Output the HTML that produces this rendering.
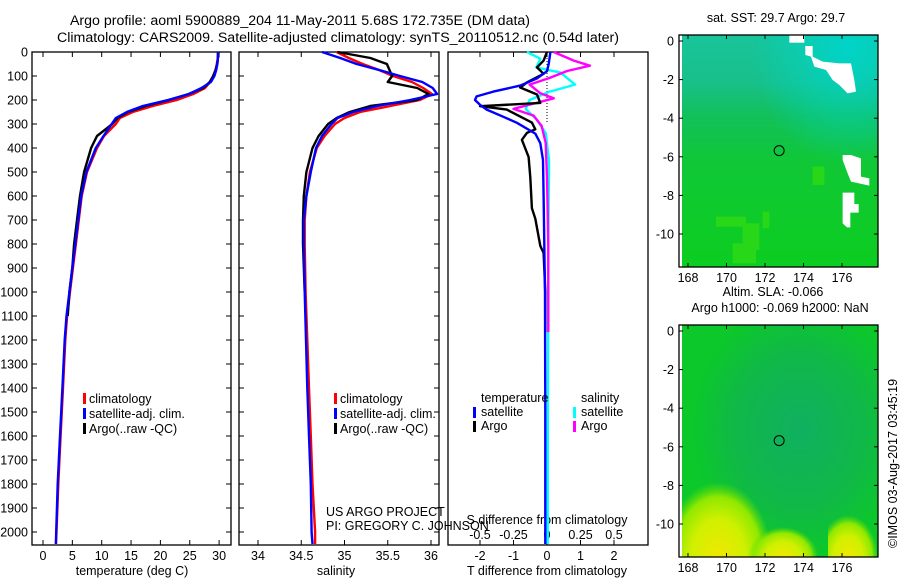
<!DOCTYPE html>
<html><head><meta charset="utf-8"><style>
html,body{margin:0;padding:0;background:#fff;width:900px;height:580px;overflow:hidden}
svg text{font-family:"Liberation Sans",sans-serif;font-size:12.5px;fill:#000}
</style></head><body>
<svg id="chart" width="900" height="580" xmlns="http://www.w3.org/2000/svg" style="display:block;overflow:hidden">
<defs>
<linearGradient id="sstg" x1="0" y1="0" x2="0" y2="1">
<stop offset="0" stop-color="#18c49a"/><stop offset="0.2" stop-color="#18c08a"/><stop offset="0.35" stop-color="#12c05a"/><stop offset="0.55" stop-color="#10c836"/><stop offset="1" stop-color="#0ccd20"/></linearGradient>
<radialGradient id="sstcy" cx="0.85" cy="0.05" r="0.5"><stop offset="0" stop-color="#00d4c8"/><stop offset="1" stop-color="#00d4c8" stop-opacity="0"/></radialGradient>
<radialGradient id="slac" cx="0.6" cy="0.45" r="0.55"><stop offset="0" stop-color="#10b060"/><stop offset="0.6" stop-color="#10b848"/><stop offset="1" stop-color="#10b848" stop-opacity="0"/></radialGradient>
<radialGradient id="sly1" cx="0.4" cy="1" r="0.6"><stop offset="0" stop-color="#f0e800"/><stop offset="0.5" stop-color="#d0f000"/><stop offset="0.8" stop-color="#90e800"/><stop offset="1" stop-color="#60e000" stop-opacity="0"/></radialGradient>
<radialGradient id="sly2" cx="0.5" cy="1" r="0.5"><stop offset="0" stop-color="#f0e800"/><stop offset="0.5" stop-color="#d0f000"/><stop offset="0.8" stop-color="#90e800"/><stop offset="1" stop-color="#60e000" stop-opacity="0"/></radialGradient>
<clipPath id="clipm1"><rect x="679" y="35" width="199" height="232"/></clipPath>
<clipPath id="clipm2"><rect x="679" y="325" width="199" height="232"/></clipPath>
</defs>
<g id="root"></g>
</svg>
<script>
// ---------- data ----------
const tDepth = [0,25,50,75,100,125,150,175,200,225,250,275,300,350,400,500,600,700,800,900,1000,1100,1200,1400,1600,1800,2000,2050];
const tClim = [29.8,29.8,29.6,29.4,29.0,28.5,27.6,25.6,22.8,18.7,15.3,13.1,12.4,10.4,9.2,7.5,6.6,6.1,5.6,5.1,4.6,4.1,3.8,3.4,3.0,2.6,2.3,2.2];
const tSat = [29.8,29.8,29.7,29.5,29.2,28.6,27.0,24.9,21.3,17.0,14.3,12.4,11.7,10.3,9.0,7.4,6.5,6.0,5.5,5.0,4.5,4.0,3.7,3.3,2.9,2.5,2.25,2.2];
const tArgo = [29.9,29.8,29.7,29.4,29.0,28.4,27.3,24.8,21.5,17.5,14.5,12.7,11.8,9.2,8.2,7.0,6.3,5.8,5.3,5.0,4.5,4.2];
const sDepth = [0,25,50,75,100,125,150,175,200,225,250,275,300,350,400,500,600,700,800,1000,1200,1400,1600,1800,2000,2050];
const sClim = [34.91,35.05,35.21,35.40,35.56,35.78,35.91,36.01,35.87,35.53,35.18,35.0,34.89,34.77,34.68,34.60,34.56,34.54,34.54,34.55,34.57,34.59,34.61,34.63,34.66,34.66];
const sSat = [34.74,34.95,35.14,35.40,35.64,35.90,36.02,36.07,35.76,35.38,35.10,34.92,34.85,34.74,34.67,34.61,34.56,34.53,34.53,34.54,34.555,34.57,34.59,34.61,34.62,34.63];
const sArgo = [34.92,35.30,35.49,35.52,35.55,35.50,35.84,35.97,35.84,35.30,35.06,34.91,34.81,34.70,34.63,34.56,34.53,34.52,34.52,34.54];
const dTDepth = [0,50,80,110,140,165,185,200,220,240,270,295,340,380,450,600,800,1000,1500,2050];
const dTSat = [0.1,0.05,0,-0.3,-0.8,-1.6,-2.1,-2.15,-2.0,-1.8,-1.3,-0.9,-0.35,-0.2,-0.12,-0.1,-0.08,-0.06,-0.05,-0.05];
const dTArgoDepth = [0,36,64,91,127,148,177,212,226,240,294,322,337,366,437,522,651,694,808,837,1000,1167];
const dTArgo = [0,-0.1,-0.3,-0.1,-0.6,-0.8,-0.3,-0.2,-2.0,-1.2,-0.45,-0.35,-0.6,-0.75,-0.55,-0.5,-0.45,-0.35,-0.2,-0.1,-0.05,-0.05];
const dSDepth = [0,28,64,86,136,165,200,237,280,337,450,800,1200,1600,2050];
const dSSat = [-0.15,-0.05,-0.08,0.1,0.21,0.02,-0.13,-0.16,-0.08,-0.01,0.015,0.01,0.008,0.006,0.005];
const dSArgoDepth = [0,36,57,79,108,136,172,193,215,237,265,308,379,522,800,1167];
const dSArgo = [0.05,0.2,0.32,0.15,0.02,-0.13,-0.05,0.05,-0.1,-0.25,-0.1,-0.04,-0.01,0.0,0.01,0.01];
const depthTicks = [0,100,200,300,400,500,600,700,800,900,1000,1100,1200,1300,1400,1500,1600,1700,1800,1900,2000];
const tempTicks = [0,5,10,15,20,25,30];
const salTicks = [34,34.5,35,35.5,36];
const dTTicks = [-2,-1,0,1,2];
const dSTicks = [-0.5,-0.25,0,0.25,0.5];
const lonTicks = [168,170,172,174,176];
const latTicks = [0,-2,-4,-6,-8,-10];
const argoLon = 172.735, argoLat = -5.68;

// ---------- scales ----------
const TOP=52, BOT=545;
const yD = d => TOP + d*0.24;
const xT = t => 43 + t*5.87;
const xS = s => 258 + (s-34)*86.5;
const xdT = v => 547 + v*33.5;
const xdS = v => 547 + v*134;
const NS="http://www.w3.org/2000/svg";
const root=document.getElementById('root');
function el(tag,attrs,parent,text){const e=document.createElementNS(NS,tag);for(const k in attrs)e.setAttribute(k,attrs[k]);if(text!==undefined)e.textContent=text;(parent||root).appendChild(e);return e;}
function txt(x,y,s,anchor,parent){const t=el('text',{x:x,y:y,'text-anchor':anchor||'start'},parent,s);return t;}

function frame(x0,x1,name){
  const g=el('g',{});
  
  
  el('rect',{x:x0,y:TOP,width:x1-x0,height:BOT-TOP,fill:'none',stroke:'#000','stroke-width':1.3},g);
  return g;
}
function line(vals,depths,xf,color,name,g){
  let pts=[];
  for(let i=0;i<vals.length;i++)pts.push(xf(vals[i]).toFixed(1)+','+yD(depths[i]).toFixed(1));
  const p=el('polyline',{points:pts.join(' '),fill:'none',stroke:color,'stroke-width':2.4,'stroke-linejoin':'round'},g);
  
  
  return p;
}

// titles
const tt=el('g',{});


txt(300,25,'Argo profile: aoml 5900889_204 11-May-2011 5.68S 172.735E (DM data)','middle',tt);
txt(338,42,'Climatology: CARS2009. Satellite-adjusted climatology: synTS_20110512.nc (0.54d later)','middle',tt);
tt.querySelectorAll('text').forEach(t=>t.style.fontSize='14.2px');

// depth axis labels
const ya=el('g',{});


depthTicks.forEach(d=>{txt(28,yD(d)+4.5,String(d),'end',ya);});

// ---- Panel 1 temperature ----
const p1=frame(32,231,'temperature-panel');
depthTicks.forEach(d=>{el('line',{x1:32,x2:37,y1:yD(d),y2:yD(d),stroke:'#000'},p1);el('line',{x1:226,x2:231,y1:yD(d),y2:yD(d),stroke:'#000'},p1);});
tempTicks.forEach(t=>{el('line',{x1:xT(t),x2:xT(t),y1:BOT,y2:BOT-5,stroke:'#000'},p1);el('line',{x1:xT(t),x2:xT(t),y1:TOP,y2:TOP+5,stroke:'#000'},p1);txt(xT(t),560,String(t),'middle',p1);});
txt(132,575,'temperature (deg C)','middle',p1);
line(tClim,tDepth,xT,'#ff0000','temperature-climatology-line',p1);
line(tArgo,tDepth.slice(0,tArgo.length),xT,'#000000','temperature-argo-line',p1);
line(tSat,tDepth,xT,'#0000ff','temperature-satellite-line',p1);
function legend3(x,y,g,prefix){
  const items=[['#ff0000','climatology'],['#0000ff','satellite-adj. clim.'],['#000000','Argo(..raw -QC)']];
  items.forEach((it,i)=>{
    const e=el('g',{},g);
    
    
    el('rect',{x:x,y:y+i*15-9,width:3,height:11,fill:it[0]},e);
    txt(x+6,y+i*15+1,it[1],'start',e);
  });
}
legend3(83,402,p1,'temperature');

// ---- Panel 2 salinity ----
const p2=frame(239,439,'salinity-panel');
depthTicks.forEach(d=>{el('line',{x1:239,x2:244,y1:yD(d),y2:yD(d),stroke:'#000'},p2);el('line',{x1:434,x2:439,y1:yD(d),y2:yD(d),stroke:'#000'},p2);});
salTicks.forEach(s=>{el('line',{x1:xS(s),x2:xS(s),y1:BOT,y2:BOT-5,stroke:'#000'},p2);el('line',{x1:xS(s),x2:xS(s),y1:TOP,y2:TOP+5,stroke:'#000'},p2);txt(xS(s),560,String(s),'middle',p2);});
txt(336,575,'salinity','middle',p2);
line(sClim,sDepth,xS,'#ff0000','salinity-climatology-line',p2);
line(sArgo,sDepth.slice(0,sArgo.length),xS,'#000000','salinity-argo-line',p2);
line(sSat,sDepth,xS,'#0000ff','salinity-satellite-line',p2);
legend3(334,402,p2,'salinity');
const cr=el('g',{});


txt(326,516,'US ARGO PROJECT','start',cr);
txt(326,530,'PI: GREGORY C. JOHNSON','start',cr);

// ---- Panel 3 differences ----
const p3=frame(448,648,'difference-panel');
el('line',{x1:547,x2:547,y1:TOP,y2:yD(300),stroke:'#000','stroke-dasharray':'1,2'},p3);
dTTicks.forEach(v=>{el('line',{x1:xdT(v),x2:xdT(v),y1:BOT,y2:BOT-5,stroke:'#000'},p3);el('line',{x1:xdT(v),x2:xdT(v),y1:TOP,y2:TOP+5,stroke:'#000'},p3);txt(xdT(v),560,String(v),'middle',p3);});
dSTicks.forEach(v=>{txt(xdS(v),539,String(v),'middle',p3);});
txt(547,524,'S difference from climatology','middle',p3);
txt(547,575,'T difference from climatology','middle',p3);
line(dSSat,dSDepth,xdS,'#00ffff','salinity-diff-satellite-line',p3);
line(dSArgo,dSArgoDepth,xdS,'#ff00ff','salinity-diff-argo-line',p3);
line(dTArgo,dTArgoDepth,xdT,'#000000','temperature-diff-argo-line',p3);
line(dTSat,dTDepth,xdT,'#0000ff','temperature-diff-satellite-line',p3);
const l3=[[481,402,null,'temperature'],[581,402,null,'salinity'],[481,416,'#0000ff','satellite'],[481,430,'#000000','Argo'],[581,416,'#00ffff','satellite'],[581,430,'#ff00ff','Argo']];
l3.forEach((it,i)=>{
  const e=el('g',{},p3);
  
  
  if(it[2])el('rect',{x:it[0]-8,y:it[1]-9,width:3,height:11,fill:it[2]},e);
  txt(it[0],it[1],it[3],'start',e);
});

// ---- Maps ----
const MX0=679,MX1=878,LON0=168,LONX=688,PXD=19.25;
const xL=lon=>LONX+(lon-LON0)*PXD;
function map(top,name,title1,title2,kind,clip){
  const lat0=top+6;
  const yL=lat=>lat0-lat*19.3;
  const g=el('g',{});
  
  
  const bot=top+232;
  const f=el('g',{'clip-path':'url(#'+clip+')'},g);
  if(kind==='sst'){
    el('rect',{x:682,y:top,width:MX1-682,height:bot-top,fill:'url(#sstg)'},f);
    el('rect',{x:682,y:top,width:MX1-682,height:bot-top,fill:'url(#sstcy)'},f);
    const pg=el('g',{transform:'translate(676,'+(top-5)+') scale(0.3333)'},f);
    [[170,640,70,60],[260,545,20,50],[120,560,90,30],[410,410,35,55],[200,580,50,80]].forEach(b=>el('rect',{x:b[0],y:b[1],width:b[2],height:b[3],fill:'#28d818'},pg));
    const polys=['340,15 385,15 385,38 340,38','388,48 410,48 410,80 440,95 490,100 525,100 535,150 540,185 515,190 490,165 470,150 450,120 415,110 405,80 388,75','500,375 525,375 555,385 555,440 580,445 580,467 525,455 515,430 500,390','500,488 535,488 535,522 548,522 548,548 523,548 523,592 513,592 500,580'];
    polys.forEach(p=>el('polygon',{points:p,fill:'#fff'},pg));
  } else {
    el('rect',{x:682,y:top,width:MX1-682,height:bot-top,fill:'#0cc82a'},f);
    el('rect',{x:682,y:top,width:MX1-682,height:bot-top,fill:'url(#slac)'},f);
    el('rect',{x:682,y:bot-125,width:90,height:125,fill:'url(#sly1)'},f);
    el('rect',{x:748,y:bot-60,width:70,height:60,fill:'url(#sly2)'},f);
    el('rect',{x:828,y:bot-70,width:50,height:70,fill:'url(#sly1)'},f);
  }
  el('rect',{x:MX0,y:top,width:MX1-MX0,height:bot-top,fill:'none',stroke:'#000','stroke-width':1.3},g);
  lonTicks.forEach(l=>{el('line',{x1:xL(l),x2:xL(l),y1:bot,y2:bot-4,stroke:'#000'},g);el('line',{x1:xL(l),x2:xL(l),y1:top,y2:top+4,stroke:'#000'},g);txt(xL(l),bot+15,String(l),'middle',g);});
  latTicks.forEach(l=>{el('line',{x1:MX0,x2:MX0+4,y1:yL(l),y2:yL(l),stroke:'#000'},g);el('line',{x1:MX1-4,x2:MX1,y1:yL(l),y2:yL(l),stroke:'#000'},g);txt(674,yL(l)+4.5,String(l),'end',g);});
  const c=el('circle',{cx:xL(argoLon),cy:yL(argoLat),r:5,fill:'none',stroke:'#000','stroke-width':1},g);
  
  
  if(title2){txt(773,top-29,title1,'middle',g);txt(780,top-13,title2,'middle',g);}
  else txt(776,top-13,title1,'middle',g);
}
map(35,'sst-map','sat. SST: 29.7 Argo: 29.7',null,'sst','clipm1');
map(325,'sla-map','Altim. SLA: -0.066','Argo h1000: -0.069 h2000: NaN','sla','clipm2');
const cp=el('text',{x:0,y:0,transform:'translate(897,548) rotate(-90)'},root,'©IMOS 03-Aug-2017 03:45:19');


</script>
</body></html>
